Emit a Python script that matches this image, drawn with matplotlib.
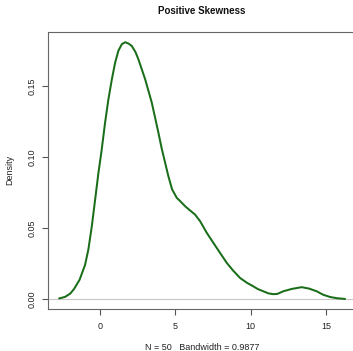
import matplotlib
matplotlib.use("Agg")
import matplotlib.pyplot as plt

# density curve
dens_x = [-2.72, -2.52, -2.32, -1.99, -1.73, -1.36, -1.00, -0.78, -0.55, -0.33,
          -0.11, 0.09, 0.33, 0.55, 0.78, 1.00, 1.21, 1.44, 1.66, 1.88,
          2.10, 2.35, 2.54, 2.99, 3.43, 3.87, 4.09, 4.53, 4.78, 5.09,
          5.34, 5.64, 5.97, 6.30, 6.64, 7.08, 7.74, 8.41, 8.83, 9.29,
          9.73, 10.17, 10.48, 10.84, 11.15, 11.45, 11.75, 12.16, 12.74, 13.38,
          13.87, 14.38, 14.80, 15.26, 15.73, 16.26]
dens_y = [0.0004, 0.0009, 0.0015, 0.0037, 0.0070, 0.0136, 0.0240, 0.0348, 0.0513, 0.0701,
          0.0890, 0.1040, 0.1243, 0.1407, 0.1549, 0.1667, 0.1749, 0.1796, 0.1810, 0.1801,
          0.1784, 0.1740, 0.1690, 0.1549, 0.1384, 0.1172, 0.1060, 0.0866, 0.0772, 0.0713,
          0.0687, 0.0654, 0.0624, 0.0595, 0.0548, 0.0466, 0.0360, 0.0254, 0.0200, 0.0148,
          0.0115, 0.0089, 0.0069, 0.0054, 0.0040, 0.0034, 0.0035, 0.0054, 0.0071, 0.0083,
          0.0073, 0.0054, 0.0030, 0.0014, 0.0005, 0.0]

x_ticks = [0, 5, 10, 15]
y_ticks = [0.00, 0.05, 0.10, 0.15]
y_tick_labels = ["0.00", "0.05", "0.10", "0.15"]

plt.rcParams["font.family"] = ["Liberation Sans", "DejaVu Sans"]

fig = plt.figure(figsize=(3.53, 3.51), dpi=100)
ax = fig.add_axes([0.1351, 0.1188, 0.8748, 0.7892])

ax.axhline(0, color="#c8c8c8", lw=0.8, zorder=1)
ax.plot(dens_x, dens_y, color="#1a6e1a", lw=1.45, zorder=2,
        solid_joinstyle="round", solid_capstyle="round")

ax.set_xlim(-3.48, 17.02)
ax.set_ylim(-0.0073, 0.188)

ax.set_xticks(x_ticks)
ax.set_yticks(y_ticks)
ax.set_yticklabels(y_tick_labels, rotation=90, va="center")
ax.tick_params(axis="both", colors="#555555", labelcolor="#222222", labelsize=6.5,
               length=4.3, width=0.8, direction="out")
ax.tick_params(axis="x", pad=5)
ax.tick_params(axis="y", pad=3.5)
for s in ax.spines.values():
    s.set_color("#666666")
    s.set_linewidth(0.8)

fig.text(202 / 353, 1 - 11 / 351, "Positive Skewness", ha="center", va="center",
         fontsize=7, fontweight="bold", color="#111111")
fig.text(202 / 353, 1 - 347 / 351, "N = 50   Bandwidth = 0.9877", ha="center", va="center",
         fontsize=6.5, color="#222222")
fig.text(10 / 353, 1 - 170 / 351, "Density", ha="center", va="center", rotation=90,
         fontsize=6.5, color="#222222")

fig.savefig("out.png", dpi=100)
